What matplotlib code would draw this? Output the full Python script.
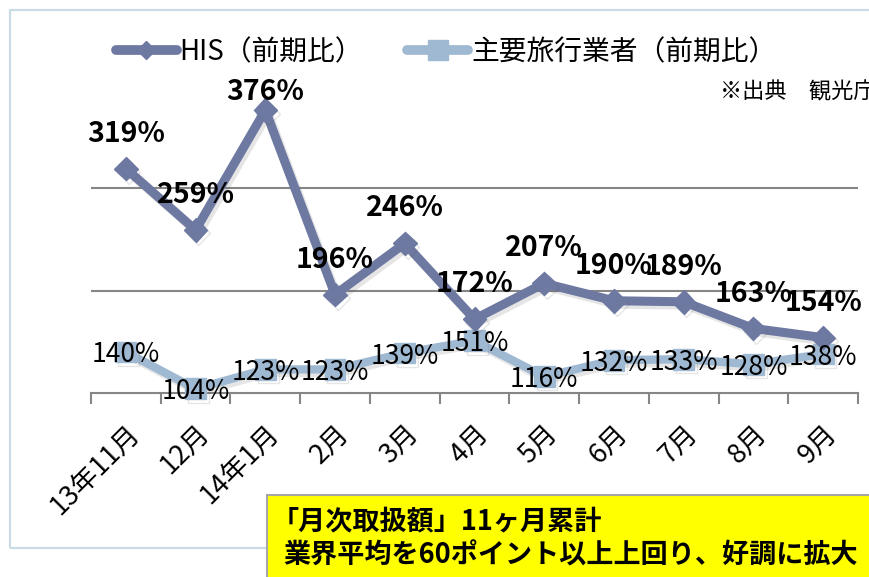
import matplotlib
matplotlib.use('Agg')
import matplotlib.pyplot as plt
import matplotlib.patheffects as pe
from matplotlib.patches import Rectangle
from matplotlib.lines import Line2D
import numpy as np

plt.rcParams['font.family'] = ['Noto Sans CJK JP', 'DejaVu Sans']

# ---------------- data ----------------
months = ['13年11月', '12月', '14年1月', '2月', '3月', '4月', '5月', '6月', '7月', '8月', '9月']
his = [319, 259, 376, 196, 246, 172, 207, 190, 189, 163, 154]
major = [140, 104, 123, 123, 139, 151, 116, 132, 133, 128, 138]
his_label = 'HIS（前期比）'
major_label = '主要旅行業者（前期比）'
source_text = '※出典　観光庁'
note_lines = ['「月次取扱額」11ヶ月累計', '業界平均を60ポイント以上上回り、好調に拡大']

C_HIS = '#6E79A2'
C_MAJ = '#A0B9D2'
W, H = 870, 577

fig = plt.figure(figsize=(8.7, 5.77), dpi=100)
fig.patch.set_facecolor('white')

# outer frame
fig.patches.append(Rectangle((10 / W, 1 - 548 / H), (880 - 10) / W, (548 - 10) / H,
                             transform=fig.transFigure, fill=False,
                             edgecolor='#C9DCE6', linewidth=1.6))

ax = fig.add_axes([91 / W, 1 - 393 / H, (858 - 91) / W, (393 - 85.5) / H])
x = np.arange(len(months))
ax.set_xlim(-0.5, len(months) - 0.5)
ax.set_ylim(100, 400)
ax.set_facecolor('none')

for s in ['left', 'right', 'top']:
    ax.spines[s].set_visible(False)
ax.spines['bottom'].set_color('#868686')
ax.spines['bottom'].set_linewidth(1.5)

ax.set_yticks([200, 300])
ax.yaxis.grid(True, color='#868686', linewidth=1.5)
ax.tick_params(axis='y', left=False, labelleft=False)

ax.set_xticks(x)
ax.set_xticklabels(months, rotation=45, ha='right', va='top',
                   rotation_mode='anchor', fontsize=19.5)
ax.set_xticks(np.arange(len(months) + 1) - 0.5, minor=True)
ax.tick_params(axis='x', which='major', length=0, pad=19)
ax.tick_params(axis='x', which='minor', length=8, width=1.5, color='#868686', direction='out')

shadow = [pe.SimpleLineShadow(offset=(2, -2.5), shadow_color='#555555', alpha=0.15), pe.Normal()]
ax.plot(x, major, color=C_MAJ, lw=6, marker='s', ms=15, mfc=C_MAJ, mec=C_MAJ,
        path_effects=shadow, zorder=3, clip_on=False)
ax.plot(x, his, color=C_HIS, lw=6.5, marker='D', ms=12, mfc=C_HIS, mec=C_HIS,
        path_effects=shadow, zorder=4, clip_on=False)

for xi, v in zip(x, his):
    ax.text(xi, min(v + 37, 397), f'{v}%', ha='center', va='center_baseline',
            fontsize=20.5, fontweight='bold', color='black', zorder=6, clip_on=False)
for xi, v in zip(x, major):
    ax.text(xi, v, f'{v}%', ha='center', va='center_baseline',
            fontsize=19, color='black', zorder=6, clip_on=False)

handles = [
    Line2D([], [], color=C_HIS, lw=7, marker='D', ms=9, solid_capstyle='round'),
    Line2D([], [], color=C_MAJ, lw=7, marker='s', ms=14, solid_capstyle='round'),
]
fig.legend(handles, [his_label, major_label], loc='center',
           bbox_to_anchor=(446 / W, 1 - 52 / H), ncol=2, frameon=False,
           fontsize=20, handlelength=2.2, handletextpad=0.1, columnspacing=1.6,
           numpoints=1, borderpad=0, borderaxespad=0)

fig.text(720 / W, 1 - 92 / H, source_text, fontsize=16, va='center', ha='left')

# yellow note box
fig.patches.append(Rectangle((267 / W, -0.01), (900 - 267) / W, (577 - 495) / H + 0.01,
                             transform=fig.transFigure, facecolor='#FFFF00',
                             edgecolor='#A6A6A6', linewidth=1.5, zorder=5))
fig.text(272 / W, 1 - 521 / H, note_lines[0], fontsize=19.5, fontweight='bold',
         va='center', ha='left', zorder=6)
fig.text(283 / W, 1 - 556 / H, note_lines[1], fontsize=19.5, fontweight='bold',
         va='center', ha='left', zorder=6)

fig.savefig('out.png', dpi=100, facecolor='white')
